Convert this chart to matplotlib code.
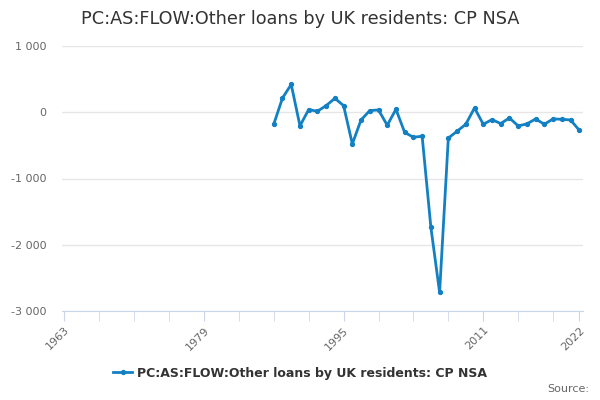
import matplotlib
matplotlib.use("Agg")
import matplotlib.pyplot as plt

# annual values
years = list(range(1987, 2023))
values = [-180, 215, 420, -205, 40, 15, 100, 210, 100, -478,
          -116, 25, 35, -196, 45, -305, -377, -362, -1735, -2720,
          -390, -287, -181, 65, -181, -111, -171, -86, -206, -176,
          -101, -181, -101, -106, -116, -271]
series_name = "PC:AS:FLOW:Other loans by UK residents: CP NSA"
year_labels = [1963, 1979, 1995, 2011, 2022]
year_minor = list(range(1963, 2022, 4)) + [2022]
y_ticks = [-3000, -2000, -1000, 0, 1000]

line_col = "#1380c3"

fig = plt.figure(figsize=(6, 4), dpi=100)
ax = fig.add_axes([0.1028, 0.2225, 0.8693, 0.6625])

ax.plot(years, values, color=line_col, lw=2, marker="o", ms=2.8,
        label=series_name, zorder=3)

ax.set_xlim(1962.70, 2022.46)
ax.set_ylim(-3000, 1000)

ax.set_yticks(y_ticks)
ax.set_yticklabels([f"{v:,}".replace(",", " ") for v in y_ticks])
ax.yaxis.grid(True, color="#e6e6e6", lw=1)
ax.tick_params(axis="y", length=0, labelsize=8, colors="#666666", pad=11)

ax.set_xticks(year_minor, minor=True)
ax.set_xticks(year_labels)
ax.set_xticklabels([str(y) for y in year_labels], rotation=45, ha="right",
                   rotation_mode="anchor")
ax.tick_params(axis="x", which="both", length=7, color="#ccd6eb",
               labelsize=8, labelcolor="#666666", pad=3)

for s in ["top", "right", "left"]:
    ax.spines[s].set_visible(False)
ax.spines["bottom"].set_color("#ccd6eb")
ax.set_axisbelow(True)

fig.text(0.5, 0.953, series_name, ha="center", va="center",
         fontsize=12.7, color="#333333")

leg = fig.legend(loc="center", bbox_to_anchor=(0.5, 0.067), frameon=False,
                 prop={"weight": "bold", "size": 9}, handlelength=1.5,
                 handletextpad=0.4)
for t in leg.get_texts():
    t.set_color("#333333")

fig.text(0.982, 0.027, "Source:", ha="right", va="center", fontsize=8,
         color="#666666")

fig.savefig("out.png", dpi=100)
